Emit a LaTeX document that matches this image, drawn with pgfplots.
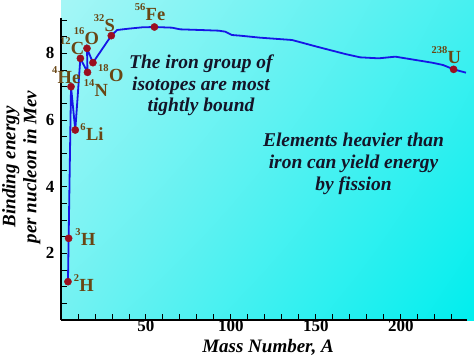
\documentclass[border=0pt]{standalone}
\usepackage{fontspec}
\setmainfont{Liberation Serif}
\usepackage{pgfplots}
\pgfplotsset{compat=1.18}
\usetikzlibrary{backgrounds,shadings}
\definecolor{bgA}{RGB}{165,246,246}
\definecolor{bgB}{RGB}{70,240,240}
\definecolor{bgC}{RGB}{115,242,242}
\definecolor{bgD}{RGB}{0,238,238}
\definecolor{curve}{RGB}{22,22,230}
\definecolor{dot}{RGB}{155,15,30}
\definecolor{elem}{RGB}{105,70,20}
\definecolor{note}{RGB}{20,20,40}
\newcommand\iso[2]{\raisebox{10bp}{\fontsize{10.5bp}{12bp}\selectfont #1}\kern0.3bp#2}
\begin{document}
\begin{tikzpicture}[x=1bp,y=1bp]
\begin{axis}[
  at={(0,0)}, anchor=south west,
  scale only axis, width=406bp, height=302bp,
  xmin=0, xmax=239, ymin=0, ymax=9.06,
  axis x line=bottom, axis y line=left,
  axis line style={-, line width=1.1bp, black},
  xtick={50,100,150,200}, minor xtick={10,20,...,230},
  ytick={2,4,6,8}, minor ytick={0.5,1,...,9},
  tick align=inside, major tick length=6bp, minor tick length=6bp,
  tick style={black, line width=0.9bp},
  every tick label/.append style={font=\fontsize{17bp}{17bp}\selectfont\bfseries},
  /pgf/number format/assume math mode=true,
  xticklabel style={yshift=3bp},
  yticklabel style={xshift=-3bp},
  clip=false,
  xlabel={Mass Number, A},
  ylabel={Binding energy\\per nucleon in Mev},
  label style={font=\fontsize{19bp}{21bp}\selectfont\bfseries\itshape, align=center},
  x label style={at={(axis description cs:0.51,-0.092)}, anchor=center},
  y label style={at={(axis description cs:-0.098,0.507)}, anchor=center, rotate=0},
]
\addplot[curve, line width=1.8bp, mark=none] coordinates {
(4.1,1.15) (4.5,2.45) (5.9,7.0) (8.4,5.7) (11.4,7.85) (15.6,7.43) (15.3,8.15)
(18.8,7.72) (29.6,8.53) (33,8.70) (39.8,8.74) (47.7,8.78) (55.0,8.79)
(65.3,8.77) (70.2,8.72) (81.9,8.70) (92.8,8.68) (96.7,8.65) (100.6,8.55)
(105.5,8.53) (117.2,8.47) (136,8.40) (150.6,8.20) (167.3,7.98) (176.1,7.88)
(187,7.85) (196.8,7.90) (218.4,7.72) (224.9,7.65) (231.1,7.52) (238.4,7.42)
};
\addplot[only marks, mark=*, mark size=3.6bp, mark options={fill=dot, draw=dot}] coordinates {
(4.1,1.15) (4.5,2.45) (5.9,7.0) (8.4,5.7) (11.4,7.85) (15.6,7.43) (15.3,8.15)
(18.8,7.72) (29.6,8.53) (55.0,8.79) (231.1,7.52)
};
\begin{scope}[every node/.style={anchor=base west, inner sep=0pt, text=elem, font=\fontsize{18.5bp}{18.5bp}\selectfont\bfseries}]
\node at (axis cs:43.4,9.0) {\iso{56}{Fe}};
\node at (axis cs:19.25,8.65) {\iso{32}{S}};
\node at (axis cs:7.48,8.28) {\iso{16}{O}};
\node at (axis cs:-0.6,7.98) {\iso{12}{C}};
\node at (axis cs:-5.3,7.11) {\iso{4}{He}};
\node at (axis cs:13.36,6.70) {\iso{14}{N}};
\node at (axis cs:21.8,7.15) {\iso{18}{O}};
\node at (axis cs:11.36,5.40) {\iso{6}{Li}};
\node at (axis cs:8.4,2.25) {\iso{3}{H}};
\node at (axis cs:7.48,0.85) {\iso{2}{H}};
\node at (axis cs:218,7.70) {\iso{238}{U}};
\end{scope}
\node[anchor=north, inner sep=0pt, align=center, text=note,
  font=\fontsize{19.5bp}{21.5bp}\selectfont\bfseries\itshape]
  at (axis cs:82.4,7.95) {The iron group of\\isotopes are most\\tightly bound};
\node[anchor=north, inner sep=0pt, align=center, text=note,
  font=\fontsize{19.5bp}{22bp}\selectfont\bfseries\itshape]
  at (axis cs:172.2,5.61) {Elements heavier than\\iron can yield energy\\by fission};
\end{axis}
\begin{scope}[on background layer]
\shade[upper left=bgA, upper right=bgB, lower left=bgC, lower right=bgD] (0,0) rectangle (413,320);
\end{scope}
\pgfresetboundingbox
\useasboundingbox (-61,-41) rectangle (413,320);
\end{tikzpicture}
\end{document}
